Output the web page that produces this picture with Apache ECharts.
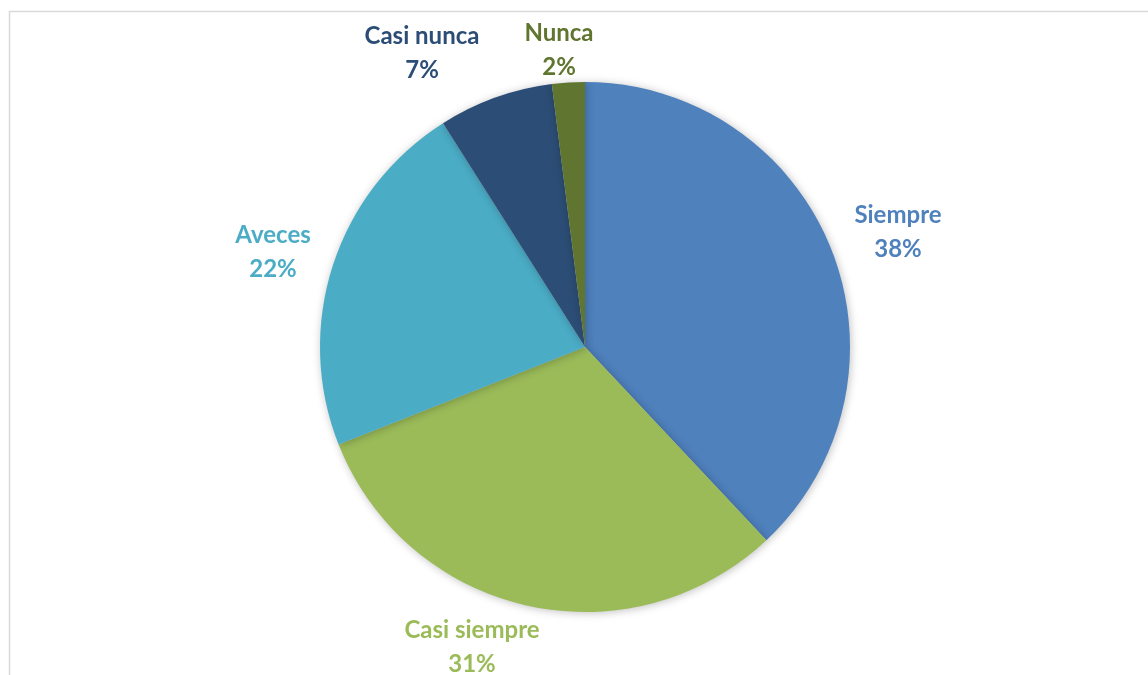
<!DOCTYPE html>
<html>
<head>
<meta charset="utf-8">
<script src="https://cdn.jsdelivr.net/npm/echarts@6/dist/echarts.min.js"></script>
<style>
  html, body { margin: 0; padding: 0; background: #fff; }
  #chart { width: 1148px; height: 675px; }
</style>
</head>
<body>
<div id="chart"></div>
<script>
var categories = ['Siempre', 'Casi siempre', 'Aveces', 'Casi nunca', 'Nunca'];
var values = [38, 31, 22, 7, 2];
var colors = ['#4F81BD', '#9BBB59', '#4BACC6', '#2C4D75', '#5F7530'];

// where each data label sits (centre of the text block), like Excel put them
var labelCentres = [[898, 232], [472, 647], [273, 252], [422, 53], [559, 50]];

var chart = echarts.init(document.getElementById('chart'));

var data = categories.map(function(name, i) {
    return {
        name: name,
        value: values[i],
        itemStyle: { color: colors[i] },
        label: { color: colors[i] }
    };
});

chart.setOption({
    animation: false,
    // chart area frame (only top and left edges visible)
    graphic: [{
        type: 'rect',
        shape: { x: 9.5, y: 11.5, width: 1200, height: 700 },
        style: { fill: 'none', stroke: '#d9d9d9', lineWidth: 1.5 },
        silent: true
    }],
    series: [{
        type: 'pie',
        center: [585, 347],
        radius: 265,
        startAngle: 90,
        clockwise: true,
        itemStyle: {
            shadowBlur: 8,
            shadowColor: 'rgba(0,0,0,0.25)',
            shadowOffsetX: 1,
            shadowOffsetY: 1
        },
        label: {
            show: true,
            position: 'outside',
            formatter: '{b}\n{d}%',
            fontFamily: 'Lato',
            fontWeight: 'bold',
            fontSize: 24,
            lineHeight: 34,
            align: 'center'
        },
        labelLine: { show: false },
        labelLayout: function(params) {
            var c = labelCentres[params.dataIndex];
            return {
                x: c[0],
                y: c[1],
                align: 'center',
                verticalAlign: 'middle'
            };
        },
        data: data
    }]
});
</script>
</body>
</html>
